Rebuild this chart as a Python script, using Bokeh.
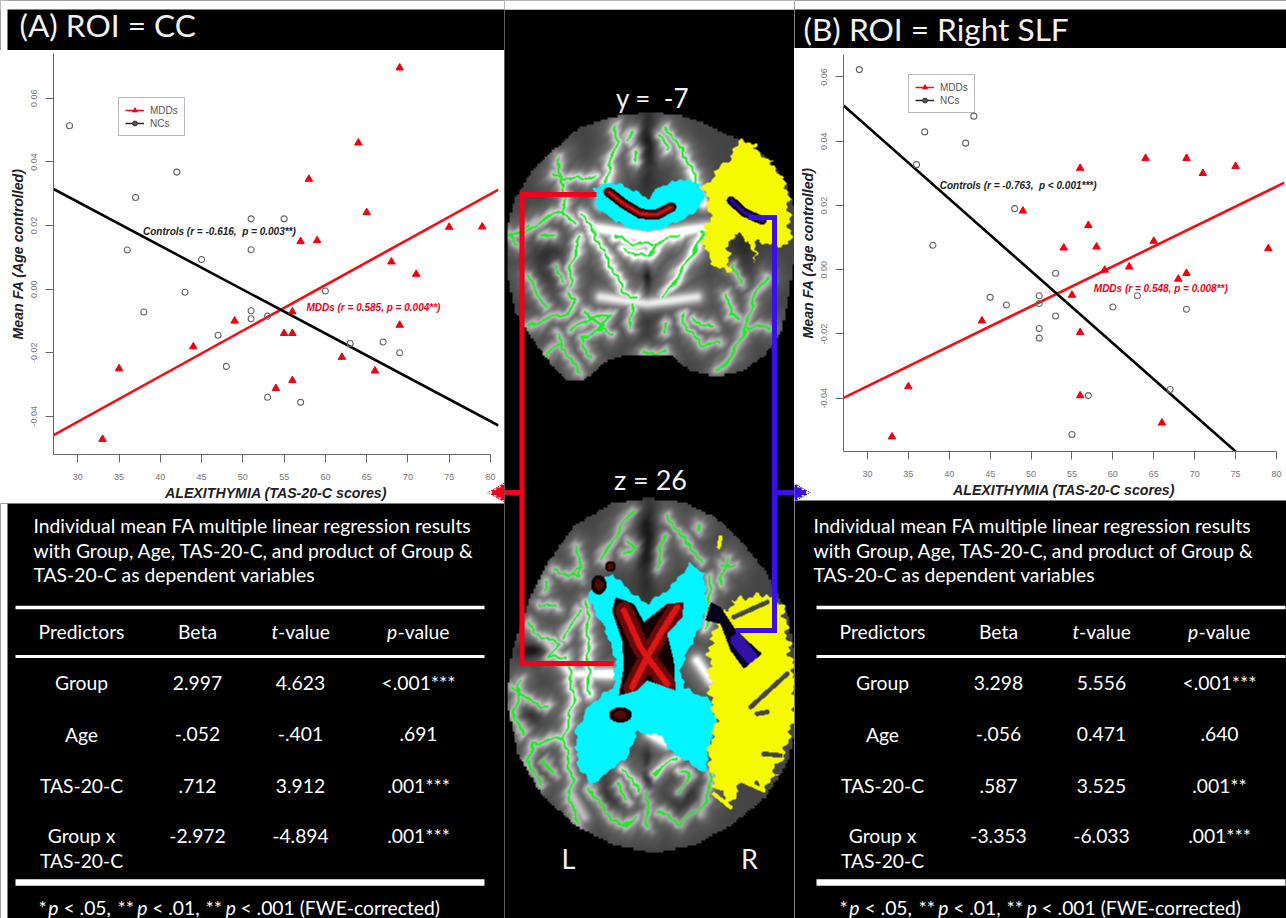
import numpy as np
from bokeh.plotting import figure
from bokeh.layouts import row, column
from bokeh.models import Range1d, FixedTicker, NumeralTickFormatter, Legend, LegendItem, Arrow, NormalHead
from bokeh.core.properties import value
from bokeh.embed import file_html
from bokeh.resources import INLINE

# ---------- data ----------
a_mdd_x = [33, 35, 44, 49, 54, 55, 56, 56, 56, 57, 58, 59, 62, 64, 65, 66, 68, 69, 69, 71, 75, 79]
a_mdd_y = [-0.0472, -0.025, -0.0181, -0.0100, -0.0312, -0.0139, -0.0139, -0.0071, -0.0287, 0.0150, 0.0346,
           0.0153, -0.0214, 0.0460, 0.0241, -0.0257, 0.0086, 0.0696, -0.0113, 0.0047, 0.0195, 0.0196]
a_nc_x = [29, 36, 37, 38, 42, 43, 45, 47, 48, 51, 51, 51, 51, 53, 53, 55, 57, 60, 63, 67, 69]
a_nc_y = [0.0514, 0.0123, 0.0288, -0.0072, 0.0368, -0.0010, 0.0093, -0.0145, -0.0243, 0.0221, 0.0124,
          -0.0068, -0.0093, -0.0085, -0.0340, 0.0221, -0.0356, -0.0006, -0.0171, -0.0166, -0.0200]
a_mdd_fit_x = [27.06, 80.97]
a_mdd_fit_y = [-0.0459, 0.0313]
a_nc_fit_x = [27.06, 80.97]
a_nc_fit_y = [0.0315, -0.0429]

b_mdd_x = [33, 35, 44, 49, 54, 55, 56, 56, 56, 57, 58, 59, 62, 64, 65, 66, 68, 69, 69, 71, 75, 79]
b_mdd_y = [-0.0520, -0.0364, -0.0159, 0.0183, 0.0068, -0.0079, 0.0316, -0.0195, -0.0392, 0.0138, 0.0071,
           -0.0001, 0.0009, 0.0347, 0.0089, -0.0477, -0.0029, 0.0347, -0.0011, 0.0300, 0.0322, 0.0066]
b_nc_x = [29, 36, 37, 38, 42, 43, 45, 47, 48, 51, 51, 51, 51, 53, 53, 55, 57, 60, 63, 67, 69]
b_nc_y = [0.0623, 0.0327, 0.0429, 0.0076, 0.0394, 0.0478, -0.0086, -0.0110, 0.0190, -0.0081, -0.0105,
          -0.0183, -0.0213, -0.0011, -0.0144, -0.0513, -0.0392, -0.0116, -0.0081, -0.0373, -0.0123]
b_mdd_fit_x = [27.07, 80.98]
b_mdd_fit_y = [-0.0399, 0.0271]
b_nc_fit_x = [27.07, 75.0]
b_nc_fit_y = [0.0511, -0.0566]

x_ticks = [30, 35, 40, 45, 50, 55, 60, 65, 70, 75, 80]
y_ticks = [-0.04, -0.02, 0.0, 0.02, 0.04, 0.06]

table_header = ["Predictors", "Beta"]
predictors = ["Group", "Age", "TAS-20-C", "Group x"]
a_beta = ["2.997", "-.052", ".712", "-2.972"]
a_t = ["4.623", "-.401", "3.912", "-4.894"]
a_p = ["<.001***", ".691", ".001***", ".001***"]
b_beta = ["3.298", "-.056", ".587", "-3.353"]
b_t = ["5.556", "0.471", "3.525", "-6.033"]
b_p = ["<.001***", ".640", ".001**", ".001***"]
intro = ["Individual mean FA multiple linear regression results",
         "with Group, Age, TAS-20-C, and product of Group &",
         "TAS-20-C as dependent variables"]

RED, BLUE = "#f4001c", "#3a10e6"
SANS, TXT = "Liberation Sans", "Lato"
NAN = float("nan")

# ---------- scatter panels ----------
def scatter_panel(w, h, xr, yr, borders, data, notes, legend_at, arrow, arrow_color):
    mx, my, nx, ny, fx1, fy1, fx2, fy2 = data
    L, R, T, B = borders
    p = figure(width=w, height=h, x_range=Range1d(*xr), y_range=Range1d(*yr), output_backend="svg",
               toolbar_location=None, min_border_left=L, min_border_right=R, min_border_top=T, min_border_bottom=B,
               background_fill_color="white", border_fill_color="white")
    p.outline_line_color = None
    p.grid.visible = False
    p.line(fx1, fy1, line_color="#fb0a14", line_width=2.6)
    p.line(fx2, fy2, line_color="black", line_width=2.6)
    p.scatter(mx, my, marker="triangle", size=7.5, fill_color="#f00010", line_color="#f00010")
    p.scatter(nx, ny, marker="circle", size=6, fill_color=None, line_color="#666666", line_width=1.1)
    for t, x, y, c in notes:
        p.text([x], [y], text=[t], text_font=value(SANS), text_font_style="bold italic", text_font_size="10px",
               text_color=c, text_baseline="middle")
    for ax in (p.xaxis[0], p.yaxis[0]):
        ax.axis_line_color = "#666666"
        ax.major_tick_line_color = "#666666"
        ax.minor_tick_line_color = None
        ax.major_tick_out = 8
        ax.major_tick_in = 0
        ax.major_label_text_color = "#777777"
        ax.major_label_text_font = SANS
        ax.major_label_text_font_size = "9px"
        ax.axis_label_text_font = SANS
        ax.axis_label_text_font_style = "bold italic"
        ax.axis_label_text_font_size = "14.2px"
        ax.axis_label_text_color = "#222222"
    p.xaxis.ticker = FixedTicker(ticks=x_ticks)
    p.yaxis.ticker = FixedTicker(ticks=y_ticks)
    p.yaxis.formatter = NumeralTickFormatter(format="0.00")
    p.xaxis.bounds = (xr[0], 80)
    p.xaxis.axis_label = "ALEXITHYMIA (TAS-20-C scores)"
    p.yaxis.axis_label = "Mean FA (Age controlled)"
    p.xaxis.major_label_standoff = 11
    p.xaxis.axis_label_standoff = 2
    p.yaxis.major_label_standoff = 8
    p.yaxis.axis_label_standoff = 3
    p.yaxis.major_label_orientation = "vertical"
    k1 = p.line([NAN], [NAN], line_color="#fb0a14", line_width=1.5)
    k2 = p.scatter([NAN], [NAN], marker="triangle", size=6, fill_color="#f00010", line_color="#f00010")
    k3 = p.line([NAN], [NAN], line_color="#222222", line_width=1.5)
    k4 = p.scatter([NAN], [NAN], marker="circle", size=5, fill_color="#555555", line_color="#333333")
    leg = Legend(items=[LegendItem(label="MDDs", renderers=[k1, k2]), LegendItem(label="NCs", renderers=[k3, k4])],
                 location=legend_at, orientation="vertical", border_line_color="#777777", border_line_width=1,
                 background_fill_alpha=0, label_text_font=SANS, label_text_font_size="10px", label_text_color="#555555",
                 glyph_width=19, glyph_height=12, label_height=12, padding=6, spacing=1, margin=0, label_standoff=6)
    p.add_layout(leg, "center")
    # arrowhead: a crisp outline of small rows plus thick inner rows that fill it
    x_base, x_tip, y_at = arrow
    sign = 1 if x_base > x_tip else -1
    for k in range(-9, 10):
        p.add_layout(Arrow(end=NormalHead(size=1, fill_color=arrow_color, line_color=arrow_color),
                           x_start=x_base, y_start=y_at + k, x_end=x_tip + sign * abs(k) * 1.75, y_end=y_at + k,
                           start_units="canvas", end_units="canvas", line_color=arrow_color, line_width=1.4))
    for k in (-5.0, -2.5, 0.0, 2.5, 5.0):
        p.add_layout(Arrow(end=NormalHead(size=19, fill_color=arrow_color, line_color=arrow_color),
                           x_start=x_base, y_start=y_at + k, x_end=x_tip + sign * (abs(k) + 2.5) * 1.75, y_end=y_at + k,
                           start_units="canvas", end_units="canvas", line_color=arrow_color, line_width=5))
    return p

panel_a = scatter_panel(504, 453, (27.06, 80.97), (-0.052, 0.0741), (53, 6, 3, 48),
                        (a_mdd_x, a_mdd_y, a_nc_x, a_nc_y, a_mdd_fit_x, a_mdd_fit_y, a_nc_fit_x, a_nc_fit_y),
                        [("Controls (r = -0.616,\u00a0 p = 0.003**)", 37.9, 0.0182, "#222222"),
                         ("MDDs (r = 0.585, p = 0.004**)", 57.7, -0.0057, "#f00020")],
                        (65, 318), (504, 487, 442), RED)
panel_b = scatter_panel(492, 452, (27.07, 80.98), (-0.0566, 0.067), (49, 2, 6, 48),
                        (b_mdd_x, b_mdd_y, b_nc_x, b_nc_y, b_mdd_fit_x, b_mdd_fit_y, b_nc_fit_x, b_nc_fit_y),
                        [("Controls (r = -0.763,\u00a0 p < 0.001***)", 38.84, 0.0263, "#222222"),
                         ("MDDs (r = 0.548, p = 0.008**)", 57.67, -0.0057, "#f00020")],
                        (65, 338), (0, 16, 444), BLUE)

# ---------- plain black panels, page pixel coordinates ----------
def black_fig(w, h, x0, y0):
    p = figure(width=w, height=h, x_range=Range1d(x0, x0 + w), y_range=Range1d(-(y0 + h), -y0),
               x_axis_type=None, y_axis_type=None, output_backend="svg", toolbar_location=None,
               min_border=0, background_fill_color="black", border_fill_color="black")
    p.outline_line_color = None
    p.grid.visible = False
    return p

def txt(p, x, y, s, size, align="center", style="normal", color="white"):
    p.text([x], [-y], text=[s], text_font=value(TXT), text_font_size=size, text_font_style=style,
           text_color=color, text_align=align, text_baseline="middle")

def title_fig(w, h, x0, s, tx, ty):
    p = black_fig(w, h, x0, 0)
    p.quad(left=x0, right=x0 + w, top=0, bottom=-9, fill_color="white", line_color=None)
    if x0 == 0:
        p.quad(left=0, right=7, top=0, bottom=-h, fill_color="white", line_color=None)
    txt(p, tx, ty, s, "31.6px", "left", color="#f2f2f2")
    return p

def table_fig(w, h, x0, y0, dx_intro, dx, beta, tv, pv):
    p = black_fig(w, h, x0, y0)
    if x0 == 0:
        p.quad(left=0, right=7, top=-y0, bottom=-(y0 + h), fill_color="white", line_color=None)
    size = "19.3px"
    for s, y in zip(intro, [525, 549.5, 574]):
        txt(p, 33 + dx_intro, y, s, size, "left")
    for y, lw in [(607, 3.5), (656, 3), (882, 6.5)]:
        p.line([15 + dx, 484 + dx], [-y, -y], line_color="white", line_width=lw)
    txt(p, 81 + dx, 631, table_header[0], size)
    txt(p, 197 + dx, 631, table_header[1], size)
    txt(p, 271 + dx, 631, "t", size, "left", "italic")
    txt(p, 277.5 + dx, 631, "-value", size, "left")
    txt(p, 386.5 + dx, 631, "p", size, "left", "italic")
    txt(p, 397 + dx, 631, "-value", size, "left")
    ys = [682, 733.5, 785, 835]
    for i, y in enumerate(ys):
        txt(p, 81 + dx, y, predictors[i], size)
        txt(p, 197 + dx, y, beta[i], size)
        txt(p, 300 + dx, y, tv[i], size)
        txt(p, 418 + dx, y, pv[i], size)
    txt(p, 81 + dx, 860, predictors[2], size)
    for s, x, st in [("*", 38, "normal"), ("p", 47.7, "italic"), ("< .05,", 63, "normal"), ("**", 117, "normal"),
                     ("p", 136.7, "italic"), ("< .01,", 151.7, "normal"), ("**", 205, "normal"),
                     ("p", 225.3, "italic"), ("< .001 (FWE-corrected)", 240, "normal")]:
        txt(p, x + dx, 907, s, size, "left", st)
    return p

# ---------- brain sections (background pictures, in zoomed-crop coordinates) ----------
def seg_dist(X, Y, lines):
    d = np.full(X.shape, 1e9)
    for pl in lines:
        for (x1, y1), (x2, y2) in zip(pl[:-1], pl[1:]):
            vx, vy = x2 - x1, y2 - y1
            t = np.clip(((X - x1) * vx + (Y - y1) * vy) / max(vx * vx + vy * vy, 1e-6), 0, 1)
            d = np.minimum(d, np.hypot(X - x1 - t * vx, Y - y1 - t * vy))
    return d

def inside(X, Y, poly):
    m = np.zeros(X.shape, bool)
    n = len(poly)
    for i in range(n):
        x1, y1 = poly[i]
        x2, y2 = poly[(i + 1) % n]
        c = (y1 > Y) != (y2 > Y)
        m ^= c & (X < (x2 - x1) * (Y - y1) / (y2 - y1 + 1e-9) + x1)
    return m

def ell(X, Y, cx, cy, rx, ry):
    return ((X - cx) / rx) ** 2 + ((Y - cy) / ry) ** 2 <= 1

def paint(rgb, mask, col):
    rgb[mask] = np.array(col) / 255.0

def rough(X, Y, a):
    return (X + a * np.sin(Y / 9) + 0.7 * a * np.sin(Y / 3.7 + 1),
            Y + a * np.sin(X / 8) + 0.7 * a * np.sin(X / 4.1 + 2))

CYAN, YEL, GREEN = (0, 245, 255), (245, 250, 0), (30, 235, 40)
W, H = 290, 918
px, py = np.meshgrid(np.arange(W) + 504.5, np.arange(H) + 0.5)
rgb = np.zeros((H, W, 3))
rgb[:9] = 1.0

def coords(ox, oy, x0, x1, y0, y1):
    ix = (px[0] >= x0) & (px[0] < x1)
    iy = (py[:, 0] >= y0) & (py[:, 0] < y1)
    sel = np.ix_(iy, ix)
    return (px[sel] - ox) * 3, (py[sel] - oy) * 3, sel

def gray_brain(X, Y, outline, strokes, bright, dark, centre):
    Xq, Yq = np.floor(X / 7) * 7, np.floor(Y / 7) * 7
    m = inside(Xq, Yq, outline)
    Xw, Yw = X + 4 * np.sin(Y / 13) + 2 * np.sin(Y / 5.3 + X / 9), Y + 4 * np.sin(X / 11) + 2 * np.sin(X / 4.7 + Y / 8)
    d = seg_dist(Xw, Yw, strokes)
    db = np.minimum(d, seg_dist(X, Y, bright))
    r = np.hypot(X - centre[0], Y - centre[1])
    fall = 0.45 + 0.55 * np.exp(-(r / 260) ** 2)
    g = 0.27 + fall * (0.66 * np.exp(-(db / 17) ** 2) + 0.3 * np.exp(-(db / 48) ** 2))
    for cx, cy, rx, ry, a in dark:
        g -= a * np.exp(-((X - cx) / rx) ** 2 - ((Y - cy) / ry) ** 2)
    g = np.clip(g, 0.1, 1) * m
    im = np.dstack([g, g, g])
    im[(d < 3.4) & m] = np.array(GREEN) / 255.0
    return im, Xq, Yq

# coronal section y = -7
cor_out = [(440, 122), (530, 130), (610, 155), (680, 190), (740, 215), (800, 265), (850, 330), (880, 420), (890, 500),
           (875, 580), (860, 680), (840, 780), (790, 850), (720, 900), (640, 915), (560, 895), (510, 850), (440, 850),
           (370, 850), (310, 870), (250, 925), (200, 930), (150, 880), (90, 800), (40, 720), (15, 600), (15, 470),
           (40, 380), (90, 300), (150, 240), (230, 170), (330, 135)]
cor_lines = [[(345, 165), (350, 215), (330, 270), (315, 335)], [(495, 175), (540, 230), (570, 290), (590, 340)],
             [(180, 260), (170, 300), (190, 340), (190, 420), (120, 450), (70, 490)], [(155, 315), (210, 325), (280, 320)],
             [(190, 420), (220, 460)], [(250, 430), (290, 510), (340, 600), (370, 670), (410, 680)],
             [(610, 490), (570, 560), (530, 620), (490, 680)], [(240, 500), (210, 590), (210, 650)],
             [(345, 495), (400, 520), (470, 520), (540, 490)], [(370, 540), (440, 560), (470, 520)],
             [(80, 620), (120, 680), (135, 710)], [(85, 770), (150, 740), (200, 730), (225, 690), (205, 670)],
             [(210, 780), (260, 750), (330, 730), (300, 780), (240, 800), (270, 860)], [(170, 790), (210, 870), (240, 910)],
             [(130, 860), (180, 820)], [(545, 730), (560, 780), (610, 825), (660, 815)],
             [(800, 620), (760, 680), (735, 770), (700, 850), (650, 900)], [(735, 770), (810, 770)],
             [(680, 670), (690, 730), (720, 750)], [(430, 850), (500, 845)], [(480, 190), (500, 240)],
             [(380, 210), (400, 180)], [(405, 240), (410, 270)], [(700, 590), (720, 640)], [(30, 490), (50, 520)],
             [(125, 490), (160, 500)], [(170, 590), (185, 630)], [(600, 480), (625, 490)], [(250, 720), (330, 790)],
             [(580, 750), (640, 770)], [(395, 700), (390, 770)], [(500, 760), (490, 790)], [(20, 500), (80, 470)]]
cor_bright = [[(270, 470), (440, 500), (620, 470)], [(300, 680), (440, 700), (590, 680)], [(330, 300), (300, 400)],
              [(570, 300), (610, 400)]]
cor_dark = [(440, 230, 28, 110, 0.25), (440, 760, 90, 60, 0.1), (150, 570, 45, 90, 0.15), (720, 560, 40, 80, 0.15),
            (440, 620, 12, 50, 0.2)]
X, Y, sel = coords(500, 70, 505, 797, 105, 392)
im, Xq, Yq = gray_brain(X, Y, cor_out, cor_lines, cor_bright, cor_dark, (440, 480))
yel1 = [(720, 205), (760, 225), (790, 260), (830, 300), (860, 350), (865, 430), (870, 520), (830, 525), (770, 510),
        (762, 580), (750, 510), (700, 490), (680, 530), (690, 600), (660, 600), (620, 550), (608, 510), (630, 440),
        (610, 350), (650, 300), (690, 260)]
paint(im, inside(*rough(X, Y, 6), yel1), YEL)
cy1 = [(280, 355), (330, 335), (370, 345), (410, 365), (440, 385), (480, 350), (540, 325), (600, 340), (612, 380),
       (590, 420), (530, 455), (470, 480), (420, 480), (360, 460), (310, 430), (285, 400)]
paint(im, inside(*rough(X, Y, 3), cy1), CYAN)
cc = [[(325, 365), (370, 400), (420, 430), (470, 432), (512, 410)]]
dcc = seg_dist(X, Y, cc)
paint(im, dcc < 15, (10, 0, 0))
paint(im, dcc < 9, (115, 10, 10))
paint(im, dcc < 3.5, (225, 15, 15))
slf = [[(692, 390), (730, 425), (785, 450)]]
dslf = seg_dist(X, Y, slf)
paint(im, dslf < 13, (5, 0, 25))
paint(im, dslf < 5.5, (45, 10, 150))
rgb[sel] = im

# axial section z = 26
ax_out = [(440, 110), (540, 120), (640, 165), (720, 240), (800, 340), (860, 460), (885, 620), (890, 760), (860, 900),
          (790, 1010), (690, 1090), (580, 1150), (460, 1175), (340, 1150), (220, 1090), (120, 1000), (50, 880), (15, 720),
          (30, 570), (80, 420), (140, 300), (220, 190), (330, 125)]
ax_lines = [[(395, 150), (300, 300)], [(500, 170), (600, 300)], [(380, 240), (410, 260), (370, 285)], [(490, 230), (470, 320)],
            [(160, 330), (240, 350), (230, 260)], [(240, 320), (210, 345)],
            [(85, 490), (110, 520), (170, 550), (150, 590), (200, 590)], [(240, 450), (190, 530)],
            [(205, 620), (220, 720), (190, 830), (100, 850), (80, 900), (120, 970)],
            [(190, 830), (215, 960), (205, 1020), (235, 1090)], [(265, 980), (310, 1050), (370, 1100), (410, 1070)],
            [(630, 940), (620, 1020), (540, 1090), (470, 1050)], [(370, 930), (420, 990)], [(460, 940), (530, 890)],
            [(540, 930), (570, 940), (540, 990)], [(40, 680), (80, 720), (140, 740)], [(60, 660), (40, 770), (70, 820)],
            [(260, 420), (265, 700)], [(630, 350), (620, 500)], [(660, 310), (700, 320)], [(600, 190), (590, 210)],
            [(350, 970), (380, 1020)], [(130, 900), (160, 940)], [(140, 360), (130, 390)], [(440, 1000), (440, 1100)],
            [(680, 290), (660, 370)], [(120, 430), (170, 440)]]
ax_bright = [[(590, 600), (630, 660)], [(220, 640), (330, 640)], [(130, 530), (210, 640)], [(210, 1000), (250, 1070)],
             [(620, 990), (600, 1060)], [(450, 820), (500, 850)]]
ax_dark = [(440, 260, 30, 130, 0.25), (100, 570, 40, 20, 0.25), (100, 760, 40, 30, 0.15), (130, 920, 30, 50, 0.12),
           (330, 1000, 40, 60, 0.15), (560, 1010, 60, 70, 0.15), (440, 950, 14, 100, 0.2)]
X, Y, sel = coords(500, 460, 503, 798, 495, 855)
im, Xq, Yq = gray_brain(X, Y, ax_out, ax_lines, ax_bright, ax_dark, (420, 680))
yel2 = [(800, 400), (850, 440), (865, 560), (880, 640), (885, 770), (850, 880), (800, 980), (730, 960), (680, 1040),
        (640, 960), (620, 880), (645, 780), (630, 720), (625, 560), (650, 480), (700, 420)]
mask = inside(*rough(X, Y, 7), yel2)
holes = seg_dist(X, Y, [[(750, 740), (860, 640)], [(700, 470), (800, 425)], [(790, 880), (840, 885)], [(770, 760), (800, 755)]])
mask &= holes > 7
paint(im, mask, YEL)
paint(im, seg_dist(X, Y, [[(640, 1000), (690, 1040)], [(660, 230), (655, 260)], [(700, 950), (790, 990)]]) < 6, YEL)
cy2 = [(570, 310), (610, 340), (620, 450), (540, 620), (550, 680), (630, 720), (645, 780), (620, 880), (620, 940),
       (520, 880), (480, 825), (410, 815), (380, 890), (270, 975), (230, 910), (225, 810), (270, 730), (340, 680),
       (345, 590), (310, 500), (265, 420), (270, 380), (340, 340), (380, 385), (440, 430), (500, 390)]
paint(im, inside(*rough(X, Y, 3), cy2), CYAN)
xroi = [(345, 410), (400, 430), (430, 485), (500, 430), (550, 425), (545, 470), (500, 520), (520, 600), (525, 690),
        (470, 670), (440, 660), (410, 690), (355, 705), (370, 620), (365, 540), (335, 450)]
mx_ = inside(X, Y, xroi)
paint(im, mx_, (20, 0, 0))
dx_ = seg_dist(X, Y, [[(370, 450), (420, 560), (440, 590), (500, 670)], [(530, 440), (480, 520), (440, 590), (395, 680)]])
paint(im, mx_ & (dx_ < 26), (105, 10, 10))
paint(im, mx_ & (dx_ < 9), (225, 20, 20))
for cx, cy, rx, ry in [(295, 373, 23, 29), (330, 318, 16, 16), (360, 763, 34, 23)]:
    paint(im, ell(X, Y, cx, cy, rx, ry), (15, 0, 0))
    paint(im, ell(X, Y, cx, cy, rx * 0.55, ry * 0.55), (85, 8, 8))
blue2 = [(630, 425), (660, 440), (700, 500), (740, 540), (785, 580), (730, 625), (690, 570), (660, 490), (615, 480)]
paint(im, inside(X, Y, blue2), (5, 0, 25))
paint(im, inside(X, Y, blue2) & (seg_dist(X, Y, [[(710, 540), (750, 590)]]) < 20), (50, 15, 165))
rgb[sel] = im

rgba = np.zeros((H, W, 4), dtype=np.uint8)
rgba[..., :3] = (np.clip(rgb, 0, 1) * 255).astype(np.uint8)
rgba[..., 3] = 255
rgba = np.flipud(rgba).copy()
packed = rgba.view(np.uint32).reshape(H, W)

center = black_fig(W, H, 504, 0)
center.image_rgba(image=[packed], x=504, y=-918, dw=W, dh=H)
center.quad(left=504, right=794, top=0, bottom=-9, fill_color="white", line_color=None)
txt(center, 652, 97, "y = \u00a0-7", "26px", color="#f2f2f2")
txt(center, 650, 479, "z = 26", "27px", color="#f2f2f2")
txt(center, 568, 858, "L", "27px", color="#f2f2f2")
txt(center, 749, 858, "R", "27px", color="#f2f2f2")
lw = 5
center.line([596, 521.5, 521.5, 613], [-194, -194, -663, -663], line_color=RED, line_width=lw, line_join="miter")
center.line([504, 521.5], [-492, -492], line_color=RED, line_width=lw)
center.line([748, 774, 774, 735], [-217, -217, -630, -630], line_color=BLUE, line_width=lw, line_join="miter")
center.line([774, 794], [-492, -492], line_color=BLUE, line_width=lw)

left = column(column(title_fig(504, 50, 0, "(A) ROI = CC", 19, 24)), column(panel_a),
              column(table_fig(504, 415, 0, 503, 0, 0, a_beta, a_t, a_p)), spacing=0)
right = column(column(title_fig(492, 48, 794, "(B) ROI = Right SLF", 803, 28)), column(panel_b),
               column(table_fig(492, 418, 794, 500, 780, 801, b_beta, b_t, b_p)), spacing=0)
page = row(left, center, right)
open("out.html", "w").write(file_html(page, INLINE))
